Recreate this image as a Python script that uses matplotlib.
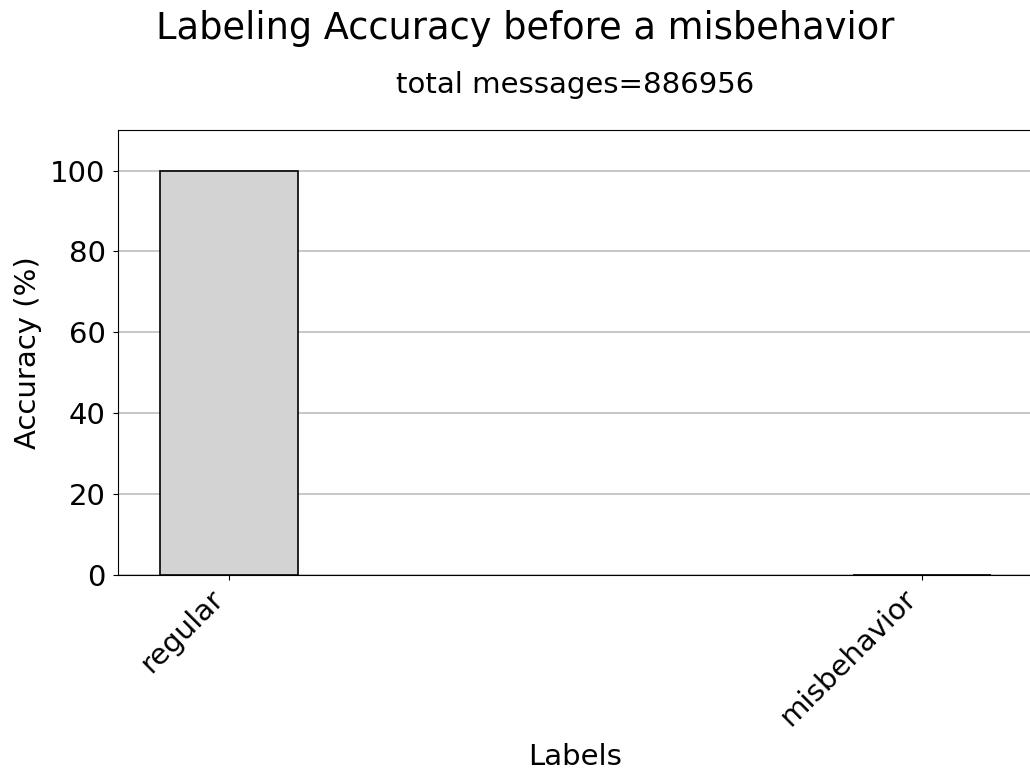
import matplotlib
matplotlib.use("Agg")
import matplotlib.pyplot as plt

labels = ["regular", "misbehavior"]
accuracy = [100.0, 0.0]
total_messages = 886956

fig = plt.figure(figsize=(10.30, 7.71), dpi=100)
ax = fig.add_axes([0.1146, 0.2542, 0.888, 0.577])

x = list(range(len(labels)))
ax.bar(x, accuracy, width=0.2, color="lightgray", edgecolor="black", linewidth=1.2, zorder=3)
ax.set_xlim(-0.16, 1.16)
ax.set_ylim(0, 110)
ax.set_yticks([0, 20, 40, 60, 80, 100])
ax.grid(axis="y", color="#b8b8b8", linewidth=1.1, zorder=0)
ax.set_axisbelow(True)

ax.set_xticks(x)
ax.set_xticklabels(labels, rotation=45, ha="right", fontsize=21)
ax.tick_params(axis="y", labelsize=21, pad=5.5)
ax.set_xlabel("Labels", fontsize=21, labelpad=8)
ax.set_ylabel("Accuracy (%)", fontsize=21, labelpad=6)

ax.set_title(f"total messages={total_messages}", fontsize=21, pad=27)
fig.suptitle("Labeling Accuracy before a misbehavior", fontsize=26.5, x=0.51, y=0.987)

fig.savefig("out.png", dpi=100)
